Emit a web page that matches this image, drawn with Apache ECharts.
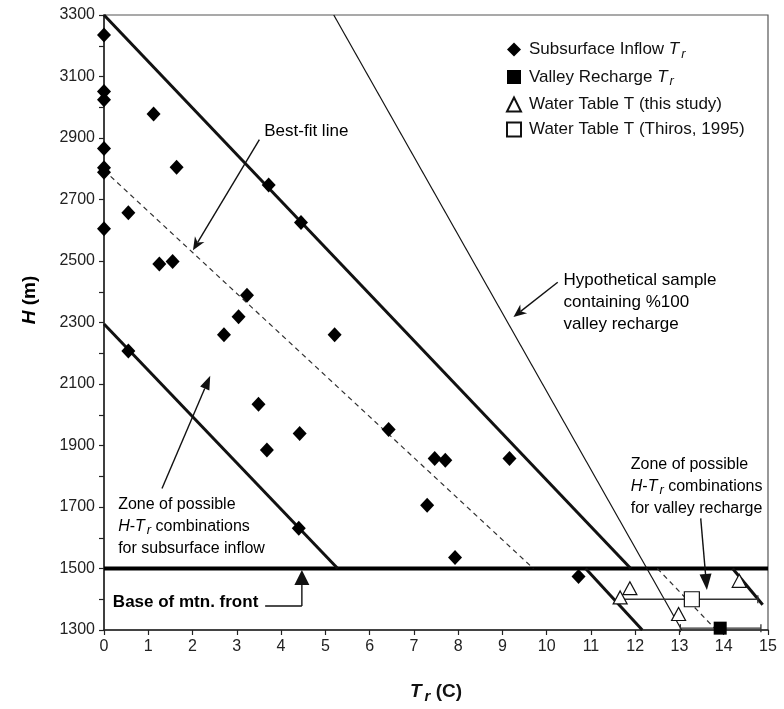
<!DOCTYPE html>
<html>
<head>
<meta charset="utf-8">
<script src="https://cdn.jsdelivr.net/npm/echarts@6/dist/echarts.min.js"></script>
<style>html,body{margin:0;padding:0;background:#fff;}#c{width:784px;height:709px;}</style>
</head>
<body>
<div id="c"></div>
<script>
// ---------- data ----------
const inflowT = [0,0,0,0,0,0,0,1.12,1.64,0.55,3.72,4.45,1.25,1.55,3.23,3.04,2.71,5.21,0.55,3.49,4.42,3.68,6.43,7.47,7.71,9.16,4.40,7.30,7.93,10.72];
const inflowH = [3235,3051,3024,2866,2803,2789,2605,2978,2805,2657,2747,2625,2490,2498,2389,2319,2260,2260,2207,2034,1939,1885,1952,1858,1852,1858,1631,1706,1536,1474];
const valleyT = [13.92], valleyH = [1306], valleyLow = [13.02], valleyHigh = [14.84];
const wtStudyT = [11.66,11.88,12.98,14.35], wtStudyH = [1406,1436,1352,1460];
const thirosT = [13.28], thirosH = [1400], thirosLow = [11.66], thirosHigh = [14.77];

const upperT = [0,11.9],    upperH = [3300,1500];
const lowerT = [0,5.28],    lowerH = [2295,1500];
const fitT = [0,9.7],       fitH = [2795,1500];
const hypoT = [5.19,13.05], hypoH = [3300,1300];
const baseT = [0,15],       baseH = [1500,1500];
const vLeftT = [10.88,12.16], vLeftH = [1500,1300];
const vRightT = [14.2,14.88], vRightH = [1500,1382];
const vFitT = [12.5,13.83],   vFitH = [1500,1300];

const xTicks = {min:0, max:15, step:1};
const yTicks = {min:1300, max:3300, step:200};

const names = ['Subsurface Inflow Tr','Valley Recharge Tr','Water Table T (this study)','Water Table T (Thiros, 1995)'];

// ---------- helpers ----------
const zip = (a,b) => a.map((v,i)=>[v,b[i]]);
const FONT = 'Liberation Sans, Arial, Helvetica, sans-serif';

function lineSeries(T,H,opt){
  return Object.assign({
    type:'line', data:zip(T,H), showSymbol:false, symbol:'none', silent:true,
    animation:false, z:2,
    lineStyle:{color:'#111', width:3}
  }, opt||{});
}
function errSeries(T,H,lo,hi){
  return {
    type:'custom', silent:true, animation:false, z:3,
    data: T.map((t,i)=>[t,H[i],lo[i],hi[i]]),
    renderItem: function(params, api){
      const y = api.value(1);
      const a = api.coord([api.value(2), y]);
      const b = api.coord([api.value(3), y]);
      const st = {stroke:'#333', lineWidth:1.3};
      return {type:'group', children:[
        {type:'line', shape:{x1:a[0],y1:a[1],x2:b[0],y2:b[1]}, style:st},
        {type:'line', shape:{x1:a[0],y1:a[1]-4,x2:a[0],y2:a[1]+4}, style:st},
        {type:'line', shape:{x1:b[0],y1:b[1]-4,x2:b[0],y2:b[1]+4}, style:st}
      ]};
    }
  };
}

const chart = echarts.init(document.getElementById('c'), null, {renderer:'canvas'});

const legendRich = {
  n:{fontSize:17, fontFamily:FONT, color:'#111'},
  it:{fontSize:17, fontFamily:FONT, fontStyle:'italic', color:'#111'},
  sub:{fontSize:13, fontFamily:FONT, fontStyle:'italic', color:'#111', padding:[9,0,0,2]}
};
const legendLabels = {
  'Subsurface Inflow Tr':'{n|Subsurface Inflow }{it|T}{sub|r}',
  'Valley Recharge Tr':'{n|Valley Recharge }{it|T}{sub|r}',
  'Water Table T (this study)':'{n|Water Table T (this study)}',
  'Water Table T (Thiros, 1995)':'{n|Water Table T (Thiros, 1995)}'
};

const option = {
  animation:false,
  backgroundColor:'#fff',
  grid:{left:104, right:16, top:15, bottom:77, show:true, borderColor:'#555', borderWidth:1.2, backgroundColor:'transparent'},
  xAxis:{
    type:'value', min:xTicks.min, max:xTicks.max, interval:xTicks.step,
    axisLine:{show:true, onZero:false, lineStyle:{color:'#222', width:1.5}},
    axisTick:{show:true, inside:false, length:5, lineStyle:{color:'#222', width:1.2}},
    axisLabel:{fontSize:16, fontFamily:FONT, color:'#222', margin:9, formatter: v => String(v)},
    splitLine:{show:false},
    name:'{it|T}{sub|r}{b| (C)}', nameLocation:'middle', nameGap:50,
    nameTextStyle:{rich:{
      it:{fontSize:19, fontWeight:'bold', fontStyle:'italic', fontFamily:FONT, color:'#111'},
      sub:{fontSize:15, fontWeight:'bold', fontStyle:'italic', fontFamily:FONT, color:'#111', padding:[9,0,0,3]},
      b:{fontSize:19, fontWeight:'bold', fontFamily:FONT, color:'#111'}
    }}
  },
  yAxis:{
    type:'value', min:yTicks.min, max:yTicks.max, interval:yTicks.step,
    axisLine:{show:true, onZero:false, lineStyle:{color:'#222', width:1.5}},
    axisTick:{show:true, inside:false, length:5, lineStyle:{color:'#222', width:1.2}},
    minorTick:{show:true, splitNumber:2, length:5, lineStyle:{color:'#222', width:1.2}},
    axisLabel:{fontSize:16, fontFamily:FONT, color:'#222', margin:9, formatter: v => String(v)},
    splitLine:{show:false}, minorSplitLine:{show:false}
  },
  legend:{
    orient:'vertical', left:501, top:36, itemGap:8, itemWidth:14, itemHeight:14,
    selectedMode:false, data:names,
    formatter: n => legendLabels[n],
    textStyle:{rich:legendRich, padding:[0,0,0,3]}
  },
  series:[
    lineSeries(baseT, baseH, {lineStyle:{color:'#000', width:4}}),
    lineSeries(upperT, upperH),
    lineSeries(lowerT, lowerH),
    lineSeries(vLeftT, vLeftH),
    lineSeries(vRightT, vRightH),
    lineSeries(hypoT, hypoH, {lineStyle:{color:'#111', width:1.2}}),
    lineSeries(fitT, fitH, {lineStyle:{color:'#333', width:1.2, type:[5,4]}}),
    lineSeries(vFitT, vFitH, {lineStyle:{color:'#333', width:1.2, type:[5,4]}}),
    errSeries(thirosT, thirosH, thirosLow, thirosHigh),
    errSeries(valleyT, valleyH, valleyLow, valleyHigh),
    {name:names[0], type:'scatter', symbol:'diamond', symbolSize:[14,15], z:5,
     itemStyle:{color:'#000', opacity:1}, data:zip(inflowT, inflowH)},
    {name:names[1], type:'scatter', symbol:'rect', symbolSize:13, z:5,
     itemStyle:{color:'#000', opacity:1}, data:zip(valleyT, valleyH)},
    {name:names[2], type:'scatter', symbol:'triangle', symbolSize:[14,13], z:5,
     itemStyle:{color:'#fff', borderColor:'#111', borderWidth:1.2, opacity:1}, data:zip(wtStudyT, wtStudyH)},
    {name:names[3], type:'scatter', symbol:'rect', symbolSize:15, z:5,
     itemStyle:{color:'#fff', borderColor:'#111', borderWidth:1.2, opacity:1}, data:zip(thirosT, thirosH)}
  ]
};
chart.setOption(option);

// ---------- annotations (anchored in data coordinates) ----------
const P = (t,h) => chart.convertToPixel({gridIndex:0}, [t,h]);
function mkRich(fs){
  return {
    n:{fontSize:fs, fontFamily:FONT, color:'#111', lineHeight:22},
    it:{fontSize:fs, fontFamily:FONT, fontStyle:'italic', color:'#111', lineHeight:22},
    sub:{fontSize:13, fontFamily:FONT, fontStyle:'italic', color:'#111', padding:[8,0,0,2], lineHeight:22},
    b:{fontSize:fs, fontFamily:FONT, fontWeight:'bold', color:'#111', lineHeight:22}
  };
}
const rich17 = mkRich(17), rich16 = mkRich(16);
function text(t,h,str,rich){
  const p = P(t,h);
  return {type:'text', z:10, silent:true, style:{
    x:p[0], y:p[1], text:str, rich:rich||rich17, align:'left', verticalAlign:'middle'
  }};
}
function arrow(t1,h1,t2,h2,len,wid,notch){
  const a = P(t1,h1), b = P(t2,h2);
  const dx=b[0]-a[0], dy=b[1]-a[1], L=Math.hypot(dx,dy);
  const ux=dx/L, uy=dy/L, px=-uy, py=ux;
  const bx=b[0]-ux*len, by=b[1]-uy*len;
  const nx=b[0]-ux*len*(notch||1), ny=b[1]-uy*len*(notch||1);
  return [
    {type:'line', z:10, silent:true, shape:{x1:a[0],y1:a[1],x2:nx,y2:ny}, style:{stroke:'#111', lineWidth:1.4}},
    {type:'polygon', z:10, silent:true, shape:{points:[[b[0],b[1]],[bx+px*wid/2,by+py*wid/2],[nx,ny],[bx-px*wid/2,by-py*wid/2]]}, style:{fill:'#111'}}
  ];
}

const g = [];
g.push(text(3.62, 2921, '{n|Best-fit line}'));
g.push(...arrow(3.51, 2895, 2.01, 2535, 13, 11, 0.7));
g.push(text(10.38, 2366, '{n|Hypothetical sample}\n{n|containing %100}\n{n|valley recharge}'));
g.push(...arrow(10.25, 2431, 9.25, 2318, 13, 11, 0.7));
g.push(text(11.9, 1767, '{n|Zone of possible}\n{it|H}{n|-}{it|T}{sub|r}{n| combinations}\n{n|for valley recharge}', rich16));
g.push(...arrow(13.48, 1663, 13.62, 1430, 16, 12, 1));
g.push(text(0.32, 1637, '{n|Zone of possible}\n{it|H}{n|-}{it|T}{sub|r}{n| combinations}\n{n|for subsurface inflow}', rich16));
g.push(...arrow(1.31, 1760, 2.40, 2127, 14, 10, 1));
g.push(text(0.2, 1391, '{b|Base of mtn. front}'));
(function(){
  const a = P(3.64,1378), c = P(4.47,1378);
  g.push({type:'polyline', z:10, silent:true, shape:{points:[a,c]}, style:{stroke:'#111', lineWidth:1.4, fill:null}});
})();
g.push(...arrow(4.47, 1378, 4.47, 1495, 15, 15, 1));
// y axis title
g.push({type:'text', z:10, silent:true, x:30, y:300, rotation:Math.PI/2, style:{
  x:0, y:0, text:'{it|H}{b| (m)}', align:'center', verticalAlign:'middle',
  rich:{it:{fontSize:19, fontWeight:'bold', fontStyle:'italic', fontFamily:FONT, color:'#111'},
        b:{fontSize:19, fontWeight:'bold', fontFamily:FONT, color:'#111'}}
}});
chart.setOption({graphic:g});
</script>
</body>
</html>
